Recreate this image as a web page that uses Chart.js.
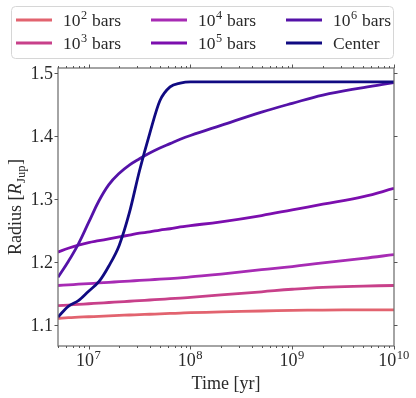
<!DOCTYPE html>
<html><head><meta charset="utf-8">
<script src="https://cdn.jsdelivr.net/npm/chart.js@4/dist/chart.umd.min.js"></script>
<style>html,body{margin:0;padding:0;background:#fff;} #wrap{width:416px;height:398px;}</style>
</head><body><div id="wrap"><canvas id="c" width="416" height="398"></canvas></div>
<script>
// ---- data ----
const timeYr = [5.0e6, 6.31e6, 7.94e6, 1.0e7, 1.26e7, 1.58e7, 2.0e7, 2.51e7, 3.16e7, 3.98e7,
                5.01e7, 6.31e7, 7.94e7, 1.0e8, 2.0e8, 5.0e8, 1.0e9, 2.0e9, 5.0e9, 1.0e10];
const r1e2 = [1.111, 1.112, 1.1127, 1.1134, 1.1141, 1.1148, 1.1155, 1.1162, 1.1168, 1.1174,
              1.118, 1.1186, 1.1192, 1.1198, 1.121, 1.1225, 1.1234, 1.124, 1.1243, 1.1242];
const r1e3 = [1.131, 1.132, 1.133, 1.134, 1.135, 1.136, 1.137, 1.138, 1.139, 1.140,
              1.141, 1.142, 1.143, 1.144, 1.148, 1.153, 1.157, 1.160, 1.162, 1.163];
const r1e4 = [1.163, 1.164, 1.165, 1.166, 1.167, 1.168, 1.169, 1.170, 1.171, 1.172,
              1.173, 1.174, 1.175, 1.1765, 1.181, 1.188, 1.193, 1.199, 1.206, 1.212];
const r1e5 = [1.216, 1.222, 1.227, 1.231, 1.234, 1.237, 1.240, 1.243, 1.246, 1.248,
              1.251, 1.253, 1.256, 1.258, 1.264, 1.274, 1.283, 1.292, 1.304, 1.317];
const r1e6 = [1.176, 1.201, 1.229, 1.263, 1.297, 1.323, 1.341, 1.354, 1.364, 1.373,
              1.381, 1.388, 1.395, 1.401, 1.417, 1.438, 1.452, 1.465, 1.477, 1.485];
const rCenter = [1.113, 1.130, 1.139, 1.154, 1.169, 1.194, 1.227, 1.278, 1.345, 1.404,
                 1.456, 1.478, 1.484, 1.486, 1.486, 1.486, 1.486, 1.486, 1.486, 1.486];

const seriesLabels = ['10^2 bars', '10^3 bars', '10^4 bars', '10^5 bars', '10^6 bars', 'Center'];
const seriesColors = ['#e2636f', '#c8408a', '#a72bb4', '#7c0eae', '#5412a8', '#100a82'];
const seriesValues = [r1e2, r1e3, r1e4, r1e5, r1e6, rCenter];

const xTickValues = [1e7, 1e8, 1e9, 1e10];
const xTickLabels = ['10^7', '10^8', '10^9', '10^10'];
const yTickValues = [1.1, 1.2, 1.3, 1.4, 1.5];
const yTickLabels = ['1.1', '1.2', '1.3', '1.4', '1.5'];
const xAxisTitle = 'Time [yr]';
const yAxisTitleParts = ['Radius [', 'R', 'Jup', ']'];

// ---- rendering helpers ----
const FONT = '"Liberation Serif", "DejaVu Serif", serif';
const TXT = '#2a2a2a';
const FS = 18;
const FSL = 17.5;

function drawPow(ctx, label, x, y, align, fs) {
  const m = label.match(/^([^\^]*)\^(\d+)(.*)$/);
  ctx.textBaseline = 'alphabetic';
  ctx.textAlign = 'left';
  if (!m) {
    ctx.font = fs + 'px ' + FONT;
    const w = ctx.measureText(label).width;
    const x0 = align === 'center' ? x - w / 2 : x;
    ctx.fillText(label, x0, y);
    return;
  }
  const fsSup = fs * 0.7;
  ctx.font = fs + 'px ' + FONT;
  const wb = ctx.measureText(m[1]).width;
  const wr = ctx.measureText(m[3]).width;
  ctx.font = fsSup + 'px ' + FONT;
  const we = ctx.measureText(m[2]).width;
  const total = wb + we + 1 + wr;
  let x0 = align === 'center' ? x - total / 2 : x;
  ctx.font = fs + 'px ' + FONT;
  ctx.fillText(m[1], x0, y);
  ctx.font = fsSup + 'px ' + FONT;
  ctx.fillText(m[2], x0 + wb + 0.5, y - fs * 0.4);
  ctx.font = fs + 'px ' + FONT;
  ctx.fillText(m[3], x0 + wb + we + 1, y);
}

const decorPlugin = {
  id: 'decor',
  afterDraw(chart) {
    const ctx = chart.ctx;
    const a = chart.chartArea;
    const xs = chart.scales.x, ys = chart.scales.y;
    ctx.save();
    ctx.strokeStyle = '#6e6e6e';
    ctx.lineWidth = 1.25;
    ctx.strokeRect(a.left, a.top, a.right - a.left, a.bottom - a.top);
    ctx.lineWidth = 1;
    ctx.strokeStyle = '#555';
    const minors = [];
    for (let e = 6; e <= 9; e++) for (let k = 2; k <= 9; k++) minors.push(k * Math.pow(10, e));
    ctx.beginPath();
    minors.forEach(v => {
      if (v < xs.min || v > xs.max) return;
      const px = Math.round(xs.getPixelForValue(v)) + 0.5;
      ctx.moveTo(px, a.bottom); ctx.lineTo(px, a.bottom + 2);
      ctx.moveTo(px, a.top); ctx.lineTo(px, a.top - 2);
    });
    xTickValues.forEach(v => {
      const px = Math.round(xs.getPixelForValue(v)) + 0.5;
      ctx.moveTo(px, a.bottom); ctx.lineTo(px, a.bottom + 3.5);
      ctx.moveTo(px, a.top); ctx.lineTo(px, a.top - 3.5);
    });
    yTickValues.forEach(v => {
      const py = Math.round(ys.getPixelForValue(v)) + 0.5;
      ctx.moveTo(a.left, py); ctx.lineTo(a.left - 3.5, py);
      ctx.moveTo(a.right, py); ctx.lineTo(a.right + 3.5, py);
    });
    ctx.stroke();

    ctx.fillStyle = TXT;
    xTickValues.forEach((v, i) => {
      const px = xs.getPixelForValue(v);
      drawPow(ctx, xTickLabels[i], px, a.bottom + 20, 'center', FS);
    });
    ctx.font = FS + 'px ' + FONT;
    ctx.textAlign = 'right';
    ctx.textBaseline = 'alphabetic';
    yTickValues.forEach((v, i) => {
      const py = ys.getPixelForValue(v);
      ctx.fillText(yTickLabels[i], a.left - 5, py + FS * 0.33);
    });

    ctx.textAlign = 'center';
    ctx.fillText(xAxisTitle, (a.left + a.right) / 2, a.bottom + 43);

    ctx.save();
    ctx.translate(21, (a.top + a.bottom) / 2);
    ctx.rotate(-Math.PI / 2);
    ctx.textAlign = 'left';
    const p = yAxisTitleParts;
    ctx.font = FS + 'px ' + FONT;
    const w0 = ctx.measureText(p[0]).width;
    ctx.font = 'italic ' + FS + 'px ' + FONT;
    const w1 = ctx.measureText(p[1]).width;
    ctx.font = (FS * 0.7) + 'px ' + FONT;
    const w2 = ctx.measureText(p[2]).width;
    ctx.font = FS + 'px ' + FONT;
    const tot = w0 + w1 + w2 + ctx.measureText(p[3]).width + 1;
    let x0 = -tot / 2;
    ctx.font = FS + 'px ' + FONT; ctx.fillText(p[0], x0, 0); x0 += w0;
    ctx.font = 'italic ' + FS + 'px ' + FONT; ctx.fillText(p[1], x0, 0); x0 += w1 + 0.5;
    ctx.font = (FS * 0.7) + 'px ' + FONT; ctx.fillText(p[2], x0, 4); x0 += w2 + 0.5;
    ctx.font = FS + 'px ' + FONT; ctx.fillText(p[3], x0, 0);
    ctx.restore();

    const bx = 11.5, by = 6.5, bw = 382, bh = 52, r = 4;
    ctx.beginPath();
    ctx.moveTo(bx + r, by);
    ctx.arcTo(bx + bw, by, bx + bw, by + bh, r);
    ctx.arcTo(bx + bw, by + bh, bx, by + bh, r);
    ctx.arcTo(bx, by + bh, bx, by, r);
    ctx.arcTo(bx, by, bx + bw, by, r);
    ctx.closePath();
    ctx.fillStyle = 'rgba(255,255,255,0.85)';
    ctx.fill();
    ctx.strokeStyle = '#d6d6d6';
    ctx.lineWidth = 1;
    ctx.stroke();
    const colX = [16, 151, 286];
    const rowY = [20, 43];
    chart.data.datasets.forEach((ds, i) => {
      const cx = colX[Math.floor(i / 2)];
      const cy = rowY[i % 2];
      ctx.strokeStyle = ds.borderColor;
      ctx.lineWidth = 2.8;
      ctx.beginPath();
      ctx.moveTo(cx, cy); ctx.lineTo(cx + 36, cy);
      ctx.stroke();
      ctx.fillStyle = TXT;
      drawPow(ctx, ds.label, cx + 47, cy + FSL * 0.33, 'left', FSL);
    });
    ctx.restore();
  }
};

new Chart(document.getElementById('c'), {
  type: 'line',
  data: {
    labels: timeYr,
    datasets: seriesValues.map((vals, i) => ({
      label: seriesLabels[i],
      data: timeYr.map((t, j) => ({ x: t, y: vals[j] })),
      borderColor: seriesColors[i],
      backgroundColor: seriesColors[i],
      borderWidth: 2.8,
      pointRadius: 0,
      fill: false,
      tension: 0.4,
      cubicInterpolationMode: i === seriesValues.length - 1 ? 'monotone' : 'default',
      order: seriesValues.length - i
    }))
  },
  options: {
    responsive: false,
    animation: false,
    devicePixelRatio: 1,
    layout: { padding: { left: 58, right: 22, top: 68, bottom: 52 } },
    plugins: { legend: { display: false }, tooltip: { enabled: false } },
    scales: {
      x: { type: 'logarithmic', min: 5e6, max: 1e10, display: false },
      y: { type: 'linear', min: 1.067, max: 1.508, display: false }
    }
  },
  plugins: [decorPlugin]
});
</script>
</body></html>
